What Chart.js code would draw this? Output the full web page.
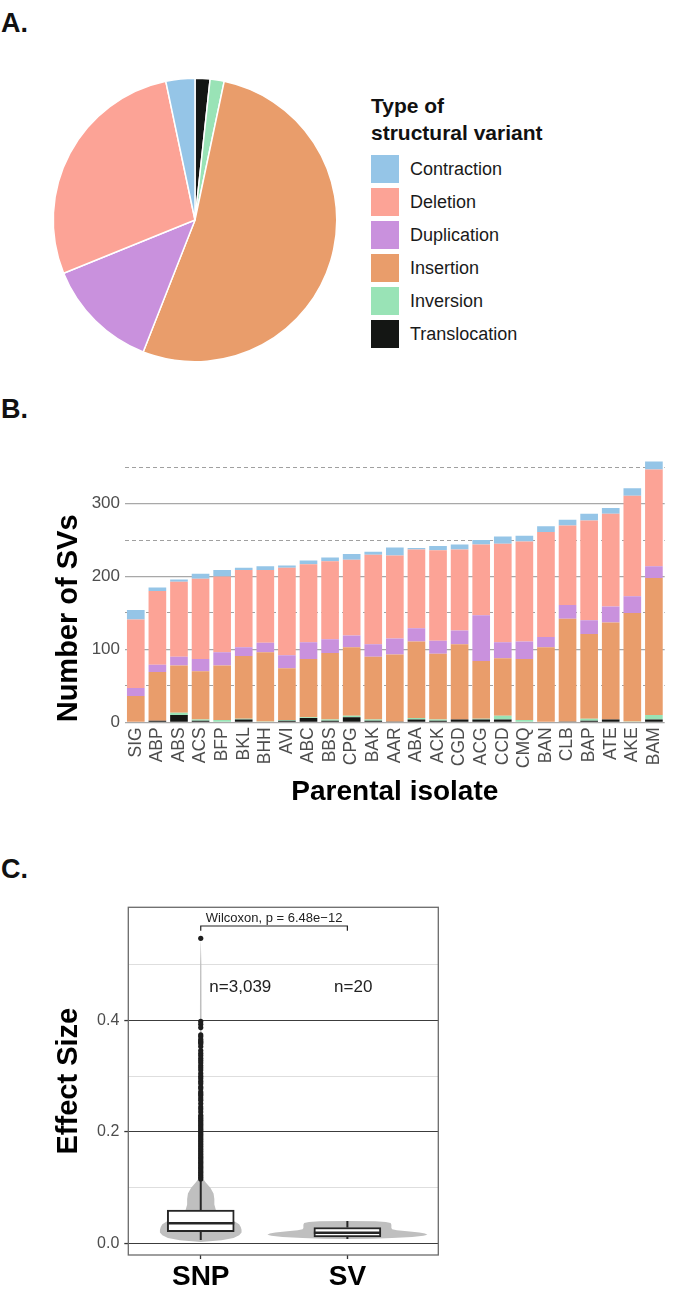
<!DOCTYPE html>
<html>
<head>
<meta charset="utf-8">
<script src="https://cdn.jsdelivr.net/npm/chart.js@4.4.1/dist/chart.umd.min.js"></script>
<style>
html,body{margin:0;padding:0;background:#fff;}
body{width:680px;height:1301px;position:relative;overflow:hidden;font-family:"Liberation Sans",Arial,Helvetica,sans-serif;}
canvas{position:absolute;}
.plabel{position:absolute;left:1px;font-weight:bold;font-size:27px;line-height:27px;color:#111;}
#legend{position:absolute;left:371px;top:92px;color:#111;}
#legend .ttl{font-weight:bold;font-size:21px;line-height:27px;margin-bottom:9px;}
#legend .row{display:flex;align-items:center;height:28px;margin-bottom:5px;}
#legend .sw{width:28px;height:28px;margin-right:11px;}
#legend .tx{font-size:18px;line-height:28px;color:#1a1a1a;}
</style>
</head>
<body>
<div class="plabel" style="top:10px">A.</div>
<div class="plabel" style="top:396px">B.</div>
<div class="plabel" style="top:856px">C.</div>
<div id="legend"></div>
<canvas id="cA" width="290" height="290" style="left:50px;top:75px"></canvas>
<canvas id="cB" width="680" height="400" style="left:0px;top:440px"></canvas>
<canvas id="cC" width="460" height="421" style="left:0px;top:880px"></canvas>
<script>
// ---------- DATA ----------
// Panel A: share of each structural-variant type (%)
const svTypes = ['Contraction','Deletion','Duplication','Insertion','Inversion','Translocation'];
const svShares = [3.3, 27.8, 12.9, 52.6, 1.6, 1.7];
const svColors = ['#95c5e7','#fca396','#c991dd','#e99d6b','#99e3b6','#141614'];

// Panel B: counts per parental isolate
const isolates = ['SIG','ABP','ABS','ACS','BFP','BKL','BHH','AVI','ABC','BBS','CPG','BAK','AAR','ABA','ACK','CGD','ACG','CCD','CMQ','BAN','CLB','BAP','ATE','AKE','BAM'];
const translocation = [0,2,10,2,0,4,0,2,6,2,7,2,1,4,2,4,4,4,0,0,1,2,4,0,4];
const inversion     = [0,0,3,2,3,1,1,1,1,2,2,2,0,2,2,0,1,5,3,0,0,3,0,1,6];
const insertion     = [36,67,65,66,75,86,95,71,80,91,94,86,92,105,90,103,79,79,84,103,141,116,133,149,188];
const duplication   = [11,10,12,17,18,12,13,18,23,19,16,17,22,18,18,19,63,22,24,14,19,19,22,23,16];
const deletion      = [94,101,103,110,104,106,100,120,107,107,104,123,114,108,124,111,97,135,137,144,109,137,127,138,133];
const contraction   = [13,5,3,7,9,3,5,3,5,5,8,4,11,2,6,7,6,10,8,8,8,9,8,10,11];
const yTicksB = [0,100,200,300];

// Panel C: effect sizes
const groups = ['SNP','SV'];
const groupN = ['n=3,039','n=20'];
const boxQ1 = [0.0215, 0.012];
const boxMedian = [0.0365, 0.0195];
const boxQ3 = [0.060, 0.029];
const whiskerLow = [0.0066, 0.0084];
const whiskerHigh = [0.114, 0.0406];
const snpOutliers = [0.547,0.398,0.393,0.387,0.374,0.371,0.366,0.363,0.361,0.358,0.353,0.346,0.341,0.337,0.332,0.328,0.324,0.319,0.315,0.311,0.305,0.300,0.296,0.291,0.287,0.281,0.278,0.272,0.269,0.266,0.261,0.257,0.251,0.245,0.241,0.236,0.230,0.227,0.224,0.221,0.218,0.215,0.212,0.209,0.206,0.203,0.200,0.197,0.194,0.191,0.188,0.185,0.182,0.179,0.176,0.173,0.170,0.167,0.164,0.161,0.158,0.155,0.152,0.149,0.146,0.143,0.140,0.137,0.134,0.131,0.128,0.125,0.122,0.119,0.116];
const violinSnpY = [0.003,0.006,0.01,0.015,0.02,0.025,0.03,0.035,0.04,0.045,0.05,0.055,0.06,0.07,0.08,0.09,0.1,0.105,0.11,0.115,0.12,0.13,0.15,0.2,0.3,0.4,0.5,0.547];
const violinSnpD = [0,0.26,0.41,0.48,0.51,0.51,0.5,0.48,0.42,0.35,0.28,0.21,0.19,0.17,0.17,0.16,0.12,0.09,0.06,0.035,0.02,0.013,0.012,0.012,0.011,0.01,0.008,0];
const violinSvY = [0.0084,0.009,0.010,0.012,0.014,0.016,0.018,0.020,0.022,0.024,0.026,0.028,0.031,0.034,0.037,0.039,0.040,0.0406];
const violinSvD = [0,0.31,0.56,0.81,0.95,1,0.97,0.9,0.78,0.62,0.56,0.55,0.55,0.55,0.54,0.48,0.35,0];
const wilcoxText = 'Wilcoxon, p = 6.48e\u221212';

// ---------- STYLE ----------
const FONT = '"Liberation Sans", Arial, Helvetica, sans-serif';
Chart.defaults.font.family = FONT;
Chart.defaults.animation = false;
Chart.defaults.responsive = false;

// ---------- Legend (HTML) ----------
(function(){
  const lg = document.getElementById('legend');
  let h = '<div class="ttl">Type of<br>structural variant</div>';
  svTypes.forEach((t,i)=>{ h += '<div class="row"><div class="sw" style="background:'+svColors[i]+'"></div><div class="tx">'+t+'</div></div>'; });
  lg.innerHTML = h;
})();

// ---------- Panel A: pie ----------
const pieOrder = svTypes.map((_,i)=>svTypes.length-1-i);
new Chart(document.getElementById('cA'), {
  type:'pie',
  data:{labels:pieOrder.map(i=>svTypes[i]),
        datasets:[{data:pieOrder.map(i=>svShares[i]), backgroundColor:pieOrder.map(i=>svColors[i]), borderColor:'#ffffff', borderWidth:1.5}]},
  options:{layout:{padding:2.5}, plugins:{legend:{display:false}, tooltip:{enabled:false}}}
});

// ---------- Panel B: stacked bars ----------
const seriesB = [
  ['Translocation', translocation, svColors[5]],
  ['Inversion', inversion, svColors[4]],
  ['Insertion', insertion, svColors[3]],
  ['Duplication', duplication, svColors[2]],
  ['Deletion', deletion, svColors[1]],
  ['Contraction', contraction, svColors[0]]
];
new Chart(document.getElementById('cB'), {
  type:'bar',
  data:{labels:isolates, datasets:seriesB.map(s=>({label:s[0], data:s[1], backgroundColor:s[2], borderWidth:0, categoryPercentage:1, barPercentage:0.818}))},
  options:{
    layout:{padding:{left:0,right:5,top:16.3,bottom:31.2}},
    plugins:{legend:{display:false}, tooltip:{enabled:false}},
    scales:{
      x:{stacked:true, grid:{display:false, drawTicks:false}, border:{display:false},
         ticks:{autoSkip:false, minRotation:90, maxRotation:90, padding:5, color:'#4d4d4d', font:{size:17.5}},
         title:{display:true, text:'Parental isolate', color:'#000', font:{size:28, weight:'bold'}, padding:0},
         afterFit(s){ s.height = 86.5; }},
      y:{stacked:true, min:0, max:365,
         ticks:{stepSize:50, includeBounds:false, padding:5, color:'#4d4d4d', font:{size:17},
                callback:v=> yTicksB.includes(v) ? String(v) : ''},
         grid:{drawTicks:false,
               color:c=> (c.tick && yTicksB.includes(c.tick.value)) ? '#a8a8a8' : '#a0a0a0',
               lineWidth:c=> (c.tick && yTicksB.includes(c.tick.value)) ? 1.3 : 1},
         border:{display:false, dash:c=> (c.tick && !yTicksB.includes(c.tick.value)) ? [4,3] : []},
         title:{display:true, text:'Number of SVs', align:'start', color:'#000', font:{size:29, weight:'bold'}, padding:{top:51.6, bottom:0}},
         afterFit(s){ s.width = 125; }}
    }
  }
});

// ---------- Panel C: violin + box ----------
const VIOLIN_HALF = 80;   // px for density 1
const BOX_W = 67;
const panelC = {
  id:'panelC',
  beforeDatasetsDraw(chart){
    const {ctx, scales:{x,y}} = chart;
    const drawViolin = (xv, ys, ds) => {
      const xc = x.getPixelForValue(xv);
      ctx.beginPath();
      ys.forEach((v,i)=>{ const px = xc + ds[i]*VIOLIN_HALF, py = y.getPixelForValue(v); i? ctx.lineTo(px,py) : ctx.moveTo(px,py); });
      for (let i=ys.length-1;i>=0;i--) ctx.lineTo(xc - ds[i]*VIOLIN_HALF, y.getPixelForValue(ys[i]));
      ctx.closePath();
      ctx.fillStyle = '#bfbfbf';
      ctx.fill();
    };
    ctx.save();
    drawViolin(1, violinSnpY, violinSnpD);
    drawViolin(2, violinSvY, violinSvD);
    ctx.strokeStyle = '#262626'; ctx.lineWidth = 2;
    groups.forEach((g,i)=>{
      const xc = x.getPixelForValue(i+1);
      ctx.beginPath();
      ctx.moveTo(xc, y.getPixelForValue(boxQ3[i])); ctx.lineTo(xc, y.getPixelForValue(whiskerHigh[i]));
      ctx.moveTo(xc, y.getPixelForValue(boxQ1[i])); ctx.lineTo(xc, y.getPixelForValue(whiskerLow[i]));
      ctx.stroke();
    });
    ctx.restore();
  },
  afterDatasetsDraw(chart){
    const {ctx, scales:{x,y}, chartArea:a} = chart;
    ctx.save();
    ctx.strokeStyle = '#262626'; ctx.lineWidth = 2.6;
    groups.forEach((g,i)=>{
      const xc = x.getPixelForValue(i+1), py = y.getPixelForValue(boxMedian[i]);
      ctx.beginPath(); ctx.moveTo(xc-BOX_W/2, py); ctx.lineTo(xc+BOX_W/2, py); ctx.stroke();
    });
    // frame
    ctx.strokeStyle = '#6a6a6a'; ctx.lineWidth = 1.3;
    ctx.strokeRect(a.left, a.top, a.right-a.left, a.bottom-a.top);
    // bracket
    const x1 = x.getPixelForValue(1), x2 = x.getPixelForValue(2);
    const yb = y.getPixelForValue(0.569), yt = y.getPixelForValue(0.5606);
    ctx.strokeStyle = '#222'; ctx.lineWidth = 1.2;
    ctx.beginPath(); ctx.moveTo(x1,yt); ctx.lineTo(x1,yb); ctx.lineTo(x2,yb); ctx.lineTo(x2,yt); ctx.stroke();
    ctx.fillStyle = '#222'; ctx.textAlign = 'center'; ctx.textBaseline = 'alphabetic';
    ctx.font = '13px ' + FONT;
    ctx.fillText(wilcoxText, x.getPixelForValue(1.5), y.getPixelForValue(0.576));
    ctx.font = '17px ' + FONT; ctx.textBaseline = 'middle';
    ctx.fillText(groupN[0], x.getPixelForValue(1.27), y.getPixelForValue(0.459));
    ctx.fillText(groupN[1], x.getPixelForValue(2.04), y.getPixelForValue(0.459));
    ctx.restore();
  }
};
const isMajorC = v => { const k = Math.round(v*10); return k%2===0 && k>=0 && k<=4; };
const isMinorC = v => { const k = Math.round(v*10); return k%2!==0; };
new Chart(document.getElementById('cC'), {
  type:'bar',
  data:{datasets:[
    {type:'bar', data:groups.map((g,i)=>({x:i+1, y:[boxQ1[i], boxQ3[i]]})), backgroundColor:'#ffffff', borderColor:'#262626', borderWidth:2, borderSkipped:false, barThickness:BOX_W, order:2},
    {type:'scatter', data:snpOutliers.map(v=>({x:1, y:v})), pointRadius:2.6, pointBackgroundColor:'#1e1e1e', pointBorderWidth:0, order:1}
  ]},
  options:{
    layout:{padding:{left:0, right:21.7, top:27.3, bottom:0}},
    plugins:{legend:{display:false}, tooltip:{enabled:false}},
    scales:{
      x:{type:'linear', min:0.506, max:2.62, offset:false,
         ticks:{stepSize:1, includeBounds:false, autoSkip:false, maxRotation:0, padding:1.2, color:'#000', font:{size:28, weight:'bold'},
                callback:v=> Number.isInteger(v) ? groups[v-1] : ''},
         grid:{offset:false, drawOnChartArea:false, drawTicks:true, tickLength:4, tickColor:'#333', tickWidth:1.3},
         border:{display:false},
         afterFit(s){ s.height = 46; }},
      y:{min:-0.0203, max:0.6025,
         ticks:{stepSize:0.1, includeBounds:false, padding:5, color:'#4d4d4d', font:{size:16},
                callback:v=> isMajorC(v) ? (Math.round(v*10)/10).toFixed(1) : ''},
         grid:{tickLength:4,
               color:c=> c.tick ? (isMajorC(c.tick.value) ? '#3c3c3c' : (isMinorC(c.tick.value) ? '#dedede' : 'rgba(0,0,0,0)')) : 'rgba(0,0,0,0)',
               lineWidth:c=> (c.tick && isMajorC(c.tick.value)) ? 1.1 : 1,
               tickColor:c=> (c.tick && isMajorC(c.tick.value)) ? '#333' : 'rgba(0,0,0,0)', tickWidth:1.3},
         border:{display:false},
         title:{display:true, text:'Effect Size', color:'#000', font:{size:29, weight:'bold'}, padding:{top:51.6, bottom:0}},
         afterFit(s){ s.width = 128.3; }}
    }
  },
  plugins:[panelC]
});
</script>
</body>
</html>
